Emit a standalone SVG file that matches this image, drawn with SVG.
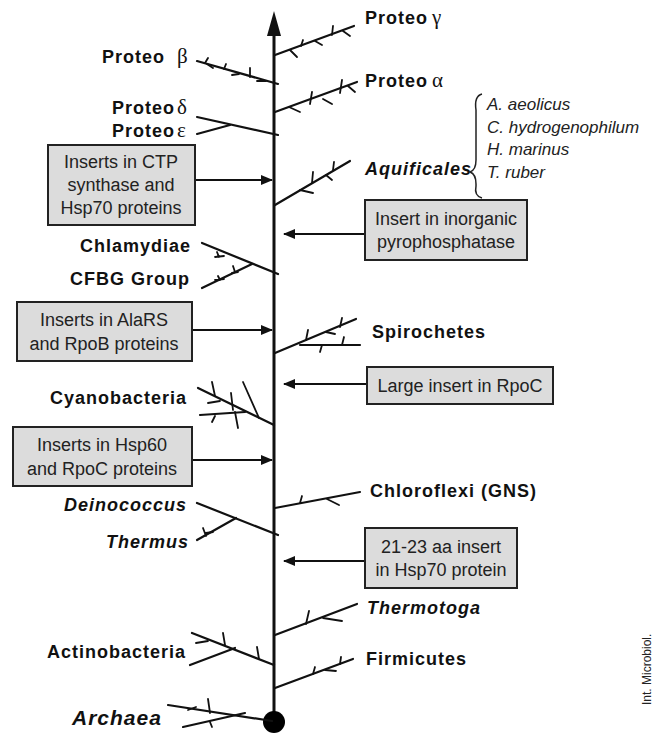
<svg xmlns="http://www.w3.org/2000/svg" width="666" height="738" viewBox="0 0 666 738">
<style>
.lab{font-family:"Liberation Sans",Arial,sans-serif;font-weight:bold;font-size:18px;letter-spacing:1px;fill:#111}
.it{font-style:italic}
.sp{font-family:"Liberation Sans",Arial,sans-serif;font-style:italic;font-size:17px;fill:#222}
.bt{font-family:"Liberation Sans",Arial,sans-serif;font-size:18px;fill:#222;text-anchor:middle}
.box{fill:#dcdcdc;stroke:#222;stroke-width:2}
.br{stroke:#111;stroke-width:2.2;fill:none;stroke-linecap:round}
.tw{stroke:#111;stroke-width:1.8;fill:none;stroke-linecap:round}
.ar{stroke:#111;stroke-width:2;fill:none}
.greek{font-family:"Liberation Serif","DejaVu Serif",serif;font-weight:normal;font-size:21px;letter-spacing:0}
</style>
<defs>
<marker id="ah" viewBox="0 0 12 10" refX="11" refY="5" markerWidth="13" markerHeight="10" markerUnits="userSpaceOnUse" orient="auto">
<path d="M0,0 L12,5 L0,10 Z" fill="#111"/>
</marker>
</defs>
<rect width="666" height="738" fill="#fff"/>

<g id="axis">
<line x1="274" y1="30" x2="274" y2="722" stroke="#111" stroke-width="3"/>
<path d="M274,11 L281,36 L267,36 Z" fill="#111"/>
<circle cx="274" cy="722" r="11" fill="#000"/>
</g>

<g id="connectors">
<line class="ar" x1="195" y1="180" x2="272" y2="180" marker-end="url(#ah)"/>
<line class="ar" x1="365" y1="234" x2="284" y2="234" marker-end="url(#ah)"/>
<line class="ar" x1="192" y1="330" x2="272" y2="330" marker-end="url(#ah)"/>
<line class="ar" x1="367" y1="384" x2="284" y2="384" marker-end="url(#ah)"/>
<line class="ar" x1="192" y1="460" x2="272" y2="460" marker-end="url(#ah)"/>
<line class="ar" x1="365" y1="561" x2="284" y2="561" marker-end="url(#ah)"/>
</g>

<g id="proteo-gamma">
<path class="br" d="M275,55 L354,26"/>
<path class="tw" d="M290,50 L297,57 M301,46 L303,40 M315,41 L322,45 M332,35 L333,26 M343,31 L350,36"/>
<text class="lab" x="365" y="24">Proteo<tspan class="greek" dx="4">γ</tspan></text>
</g>

<g id="proteo-alpha">
<path class="br" d="M275,112 L357,82"/>
<path class="tw" d="M289,107 L300,112 M310,104 L312,92 M323,99 L332,104 M340,93 L342,80 M348,86 L355,92"/>
<text class="lab" x="365" y="87">Proteo<tspan class="greek" dx="4">α</tspan></text>
</g>

<g id="proteo-beta">
<path class="br" d="M197,61 L278,84"/>
<path class="tw" d="M205,63 L208,58 M207,64 L213,68 M224,69 L226,64 M232,75 L239,74 M250,77 L250,68 M257,81 L266,81"/>
<text class="lab" x="102" y="63">Proteo<tspan class="greek" dx="12">β</tspan></text>
</g>

<g id="proteo-delta-epsilon">
<path class="br" d="M197,117 L278,135"/>
<path class="br" d="M197,134 L230,125"/>
<text class="lab" x="112" y="114">Proteo<tspan class="greek" dx="2">δ</tspan></text>
<text class="lab" x="112" y="137">Proteo<tspan class="greek" dx="2">ε</tspan></text>
</g>

<g id="aquificales">
<path class="br" d="M275,205 L350,161"/>
<path class="tw" d="M300,190 L313,193 M312,183 L313,172 M326,175 L332,180 M333,170 L334,162"/>
<text class="lab it" x="365" y="175">Aquificales</text>
<path d="M482,94 Q474,96 476,110 L476,160 Q476,170 470,172 Q476,174 476,184 L476,186 Q474,196 482,198" fill="none" stroke="#222" stroke-width="1.5"/>
<text class="sp" x="487" y="110">A. aeolicus</text>
<text class="sp" x="487" y="133">C. hydrogenophilum</text>
<text class="sp" x="487" y="155">H. marinus</text>
<text class="sp" x="487" y="178">T. ruber</text>
</g>

<g id="box-ctp">
<rect class="box" x="48" y="145" width="147" height="80"/>
<text class="bt" x="121" y="168">Inserts in CTP</text>
<text class="bt" x="121" y="191">synthase and</text>
<text class="bt" x="121" y="214">Hsp70 proteins</text>
</g>

<g id="box-ppase">
<rect class="box" x="365" y="200" width="162" height="60"/>
<text class="bt" x="446" y="225">Insert in inorganic</text>
<text class="bt" x="446" y="248">pyrophosphatase</text>
</g>

<g id="chlamydiae-cfbg">
<path class="br" d="M202,243 L278,274"/>
<path class="br" d="M202,288 L252,264"/>
<path class="tw" d="M215,257 L224,256 M219,257 L217,252 M215,280 L224,279 M220,280 L218,276 M232,273 L238,272 M235,272 L233,266"/>
<text class="lab" x="80" y="252">Chlamydiae</text>
<text class="lab" x="70" y="285">CFBG Group</text>
</g>

<g id="box-alars">
<rect class="box" x="17" y="302" width="175" height="59"/>
<text class="bt" x="104" y="326">Inserts in AlaRS</text>
<text class="bt" x="104" y="350">and RpoB proteins</text>
</g>

<g id="spirochetes">
<path class="br" d="M275,353 L356,319"/>
<path class="br" d="M300,345 L360,345"/>
<path class="tw" d="M306,340 L308,330 M326,332 L335,334 M340,327 L342,318 M322,345 L320,352 M342,345 L344,337"/>
<text class="lab" x="372" y="338">Spirochetes</text>
</g>

<g id="box-rpoc">
<rect class="box" x="367" y="367" width="186" height="37"/>
<text class="bt" x="460" y="392">Large insert in RpoC</text>
</g>

<g id="cyanobacteria">
<path class="br" d="M198,388 L274,425"/>
<path class="br" d="M200,415 L245,412"/>
<path class="tw" d="M243,382 L259,418 M212,382 L215,396 M208,403 L220,401 M231,393 L233,410 M235,412 L238,428 M215,416 L212,422"/>
<text class="lab" x="50" y="404">Cyanobacteria</text>
</g>

<g id="box-hsp60">
<rect class="box" x="13" y="427" width="179" height="59"/>
<text class="bt" x="102" y="451">Inserts in Hsp60</text>
<text class="bt" x="102" y="475">and RpoC proteins</text>
</g>

<g id="chloroflexi">
<path class="br" d="M275,508 L360,492"/>
<path class="tw" d="M300,503 L302,496 M327,499 L339,505"/>
<text class="lab" x="370" y="497">Chloroflexi (GNS)</text>
</g>

<g id="deinococcus-thermus">
<path class="br" d="M197,503 L278,535"/>
<path class="br" d="M197,540 L236,518"/>
<path class="tw" d="M203,528 L206,536 M206,533 L213,532"/>
<text class="lab it" x="64" y="511">Deinococcus</text>
<text class="lab it" x="106" y="548">Thermus</text>
</g>

<g id="box-hsp70">
<rect class="box" x="365" y="528" width="152" height="60"/>
<text class="bt" x="441" y="553">21-23 aa insert</text>
<text class="bt" x="441" y="576">in Hsp70 protein</text>
</g>

<g id="thermotoga">
<path class="br" d="M275,635 L357,604"/>
<path class="tw" d="M306,624 L309,611 M323,618 L342,621"/>
<text class="lab it" x="367" y="614">Thermotoga</text>
</g>

<g id="firmicutes">
<path class="br" d="M275,688 L353,659"/>
<path class="tw" d="M313,674 L315,667 M325,670 L336,671 M340,664 L341,657"/>
<text class="lab" x="366" y="665">Firmicutes</text>
</g>

<g id="actinobacteria">
<path class="br" d="M192,633 L274,665"/>
<path class="br" d="M190,665 L235,648"/>
<path class="tw" d="M196,643 L208,641 M225,645 L223,633 M259,659 L257,647"/>
<text class="lab" x="47" y="658">Actinobacteria</text>
</g>

<g id="archaea">
<path class="br" d="M168,705 L272,721"/>
<path class="br" d="M183,727 L245,713"/>
<path class="tw" d="M188,710 L196,707 M210,713 L208,699 M210,722 L212,727"/>
<text class="lab it" x="72" y="725" style="font-size:21px">Archaea</text>
</g>

<text x="651" y="705" transform="rotate(-90 651 705)" font-family="'Liberation Sans',Arial,sans-serif" font-size="12" fill="#222">Int. Microbiol.</text>
</svg>
